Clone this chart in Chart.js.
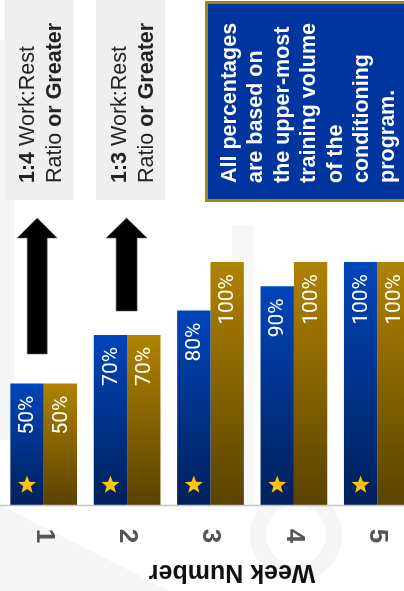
<!DOCTYPE html>
<html>
<head>
<meta charset="utf-8">
<script src="https://cdn.jsdelivr.net/npm/chart.js@4"></script>
<style>
  html, body { margin: 0; padding: 0; background: #fff; overflow: hidden; }
  #wrap { width: 404px; height: 591px; overflow: hidden; }
</style>
</head>
<body>
<div id="wrap"><canvas id="weeksChart" width="420" height="591"></canvas></div>
<script>
// DATOS DEL GRAFICO

const weeks = ['1', '2', '3', '4', '5'];
const volumeBlue = [50, 70, 80, 90, 100];
const volumeGold = [50, 70, 100, 100, 100];
const axisTitle = 'Week Number';
const noteBox = ['All percentages', 'are based on', 'the upper-most', 'training volume', 'of the', 'conditioning', 'program.'];
const ratioNotes = [
    [[['1:4', true], [' Work:Rest', false]], [['Ratio', false], [' or Greater', true]]],
    [[['1:3', true], [' Work:Rest', false]], [['Ratio', false], [' or Greater', true]]]
];

// degradado vertical para cada barra
function barGradient(top, bottom) {
    return (c) => {
        const chart = c.chart;
        const y = chart.scales.y;
        if (!y || c.raw == null) return top;
        const yt = y.getPixelForValue(c.raw);
        const yb = y.getPixelForValue(0);
        if (!isFinite(yt) || !isFinite(yb) || yt === yb) return top;
        const g = chart.ctx.createLinearGradient(0, yt, 0, yb);
        g.addColorStop(0, top);
        g.addColorStop(1, bottom);
        return g;
    };
}

function star(ctx, cx, cy, outer, inner) {
    ctx.beginPath();
    for (let i = 0; i < 10; i++) {
        const r = i % 2 === 0 ? outer : inner;
        const a = -Math.PI / 2 + i * Math.PI / 5;
        const px = cx + r * Math.cos(a);
        const py = cy + r * Math.sin(a);
        if (i === 0) ctx.moveTo(px, py); else ctx.lineTo(px, py);
    }
    ctx.closePath();
    ctx.fill();
}

function arrowUp(ctx, cx, tip, base, bottom, headHalf, shaftHalf) {
    ctx.beginPath();
    ctx.moveTo(cx, tip);
    ctx.lineTo(cx + headHalf, base);
    ctx.lineTo(cx + shaftHalf, base);
    ctx.lineTo(cx + shaftHalf, bottom);
    ctx.lineTo(cx - shaftHalf, bottom);
    ctx.lineTo(cx - shaftHalf, base);
    ctx.lineTo(cx - headHalf, base);
    ctx.closePath();
    ctx.fillStyle = '#000';
    ctx.fill();
    ctx.strokeStyle = '#666';
    ctx.lineWidth = 0.6;
    ctx.stroke();
}

// texto rotado -90 con partes en negrita
function verticalRuns(ctx, x, y, runs, size, color) {
    ctx.save();
    ctx.translate(x, y);
    ctx.rotate(-Math.PI / 2);
    ctx.textAlign = 'left';
    ctx.textBaseline = 'alphabetic';
    ctx.fillStyle = color;
    let cx = 0;
    runs.forEach(([txt, bold]) => {
        ctx.font = (bold ? 'bold ' : '') + size + 'px "Liberation Sans", Arial, sans-serif';
        ctx.fillText(txt, cx, 0);
        cx += ctx.measureText(txt).width;
    });
    ctx.restore();
}

const decor = {
    id: 'decor',
    beforeDraw(chart) {
        const ctx = chart.ctx;
        const x = chart.scales.x;
        ctx.save();
        ctx.fillStyle = '#fff';
        ctx.fillRect(0, 0, chart.width, chart.height);

        // marca de agua
        ctx.fillStyle = '#f5f5f5';
        ctx.beginPath();
        ctx.moveTo(0, 505); ctx.lineTo(0, 591); ctx.lineTo(170, 591);
        ctx.closePath(); ctx.fill();
        ctx.beginPath();
        ctx.moveTo(0, 40); ctx.lineTo(14, 40); ctx.lineTo(14, 440); ctx.lineTo(0, 440);
        ctx.closePath(); ctx.fill();
        ctx.beginPath();
        ctx.arc(296, 535, 46, 0, Math.PI * 2);
        ctx.arc(296, 535, 30, 0, Math.PI * 2, true);
        ctx.fill();
        ctx.fillStyle = '#f8f8f8';
        ctx.fillRect(232, 225, 22, 280);

        // cajas grises
        ctx.fillStyle = '#efefef';
        ctx.fillRect(x.getPixelForValue(0) - 39, 0, 69, 200);
        ctx.fillRect(x.getPixelForValue(1) - 31, 0, 69, 200);

        // caja azul
        ctx.fillStyle = '#0035a0';
        ctx.fillRect(206, 2, 220, 199);
        ctx.strokeStyle = '#a8850a';
        ctx.lineWidth = 3;
        ctx.strokeRect(206.5, 2.5, 220, 198);
        ctx.restore();
    },
    afterDatasetsDraw(chart) {
        const ctx = chart.ctx;
        const area = chart.chartArea;
        const x = chart.scales.x;

        // porcentajes
        ctx.save();
        ctx.fillStyle = '#fff';
        ctx.font = '21px Roboto, "DejaVu Sans Condensed", sans-serif';
        [volumeBlue, volumeGold].forEach((vals, i) => {
            chart.getDatasetMeta(i).data.forEach((bar, j) => {
                ctx.save();
                ctx.translate(bar.x, bar.y + 12);
                ctx.rotate(-Math.PI / 2);
                ctx.textAlign = 'right';
                ctx.textBaseline = 'middle';
                ctx.fillText(vals[j] + '%', 0, 1);
                ctx.restore();
            });
        });

        // estrellas
        ctx.fillStyle = '#ffc20e';
        chart.getDatasetMeta(0).data.forEach(bar => {
            star(ctx, bar.x, area.bottom - 20, 9.5, 4);
        });

        // linea del eje
        ctx.strokeStyle = '#c4c4c4';
        ctx.lineWidth = 1.5;
        ctx.beginPath();
        ctx.moveTo(0, area.bottom + 0.5);
        ctx.lineTo(chart.width, area.bottom + 0.5);
        ctx.stroke();

        // numeros de semana
        ctx.fillStyle = '#555';
        ctx.font = 'bold 26px "Liberation Sans", Arial, sans-serif';
        weeks.forEach((w, j) => {
            ctx.save();
            ctx.translate(x.getPixelForValue(j), area.bottom + 31);
            ctx.rotate(Math.PI / 2);
            ctx.textAlign = 'center';
            ctx.textBaseline = 'middle';
            ctx.fillText(w, 0, 0);
            ctx.restore();
        });

        // titulo del eje
        ctx.save();
        ctx.fillStyle = '#111';
        ctx.font = 'bold 25px "Liberation Sans", Arial, sans-serif';
        ctx.translate(232, area.bottom + 67);
        ctx.rotate(Math.PI);
        ctx.textAlign = 'center';
        ctx.textBaseline = 'middle';
        ctx.fillText(axisTitle, 0, 0);
        ctx.restore();

        // flechas
        arrowUp(ctx, x.getPixelForValue(0) - 6.5, 218, 238, 354, 20, 10);
        arrowUp(ctx, x.getPixelForValue(1) - 0.5, 218, 238, 311, 20.5, 10.5);

        // notas de ratio
        ratioNotes.forEach((lines, k) => {
            const bx = k === 0 ? 34 : 126;
            lines.forEach((runs, li) => {
                verticalRuns(ctx, bx + li * 27, 183, runs, 21.5, '#222');
            });
        });

        // texto de la caja azul
        noteBox.forEach((line, li) => {
            verticalRuns(ctx, 236 + li * 26.4, 183, [[line, true]], 21.5, '#fff');
        });
        ctx.restore();
    }
};

const ctx = document.getElementById('weeksChart').getContext('2d');
const weeksChart = new Chart(ctx, {
    type: 'bar',
    data: {
        labels: weeks,
        datasets: [{
            data: volumeBlue,
            backgroundColor: barGradient('#0045bb', '#00205a'),
            borderWidth: 0
        }, {
            data: volumeGold,
            backgroundColor: barGradient('#b08300', '#5a4200'),
            borderWidth: 0
        }]
    },
    options: {
        responsive: false,
        animation: false,
        categoryPercentage: 0.8,
        barPercentage: 1,
        layout: { padding: { top: 262, bottom: 86, left: 2, right: 1 } },
        scales: {
            x: { display: false },
            y: { display: false, min: 0, max: 100 }
        },
        plugins: {
            legend: { display: false },
            tooltip: { enabled: false }
        }
    },
    plugins: [decor]
});
</script>
</body>
</html>
